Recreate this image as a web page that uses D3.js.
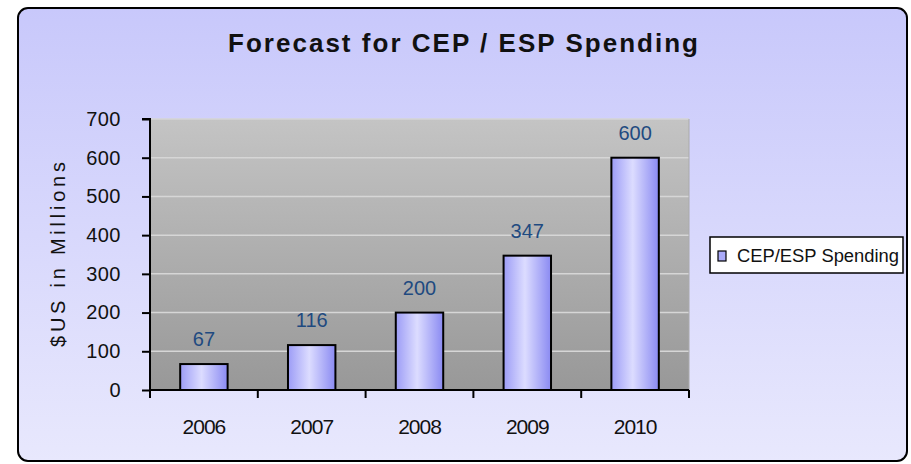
<!DOCTYPE html>
<html><head><meta charset="utf-8">
<script src="https://cdn.jsdelivr.net/npm/d3@7"></script>
<style>body{margin:0;background:#fff;}svg{display:block;}</style>
</head><body>
<svg id="c" width="911" height="464"></svg>
<script>
const categories = ["2006","2007","2008","2009","2010"];
const values = [67,116,200,347,600];
const yTicks = [0,100,200,300,400,500,600,700];
const seriesName = "CEP/ESP Spending";
const title = "Forecast for CEP / ESP Spending";
const yLabel = "$US in Millions";

const svg = d3.select("#c");
const defs = svg.append("defs");
const bg = defs.append("linearGradient").attr("id","bg").attr("x1",0).attr("y1",0).attr("x2",0).attr("y2",1);
bg.append("stop").attr("offset","0%").attr("stop-color","#c8c8fb");
bg.append("stop").attr("offset","100%").attr("stop-color","#e8e8fd");
const pg = defs.append("linearGradient").attr("id","pg").attr("x1",0).attr("y1",0).attr("x2",0).attr("y2",1);
pg.append("stop").attr("offset","0%").attr("stop-color","#c4c4c4");
pg.append("stop").attr("offset","100%").attr("stop-color","#989898");
const bgb = defs.append("linearGradient").attr("id","bar").attr("x1",0).attr("y1",0).attr("x2",1).attr("y2",0);
bgb.append("stop").attr("offset","0%").attr("stop-color","#9c9cf6");
bgb.append("stop").attr("offset","45%").attr("stop-color","#dcdcff");
bgb.append("stop").attr("offset","100%").attr("stop-color","#8a8af2");

svg.append("rect").attr("x",18).attr("y",8).attr("width",889).attr("height",453).attr("rx",10)
  .attr("fill","url(#bg)").attr("stroke","#000").attr("stroke-width",2);

svg.append("text").attr("x",228).attr("y",52)
  .attr("font-family","'Liberation Sans',Arial").attr("font-weight","bold")
  .attr("font-size",26).attr("fill","#111")
  .attr("textLength",470).attr("lengthAdjust","spacing").text(title);

const L=150,R=689,T=119,B=390;
const x = d3.scaleBand().domain(categories).range([L,R]).paddingInner(0.56).paddingOuter(0.28);
const y = d3.scaleLinear().domain([0,700]).range([B,T]);

svg.append("rect").attr("x",L).attr("y",T).attr("width",R-L).attr("height",B-T).attr("fill","url(#pg)");
svg.append("g").selectAll("line").data(yTicks.slice(1)).join("line")
  .attr("x1",L).attr("x2",R).attr("y1",d=>y(d)).attr("y2",d=>y(d))
  .attr("stroke","#d6d6d6").attr("stroke-width",1.5);
svg.append("line").attr("x1",R).attr("x2",R).attr("y1",T).attr("y2",B).attr("stroke","#aaa");

svg.append("g").selectAll("rect").data(values).join("rect")
  .attr("x",(d,i)=>x(categories[i])).attr("width",x.bandwidth())
  .attr("y",d=>y(d)).attr("height",d=>B-y(d))
  .attr("fill","url(#bar)").attr("stroke","#000").attr("stroke-width",2);

svg.append("g").selectAll("text").data(values).join("text")
  .attr("x",(d,i)=>x(categories[i])+x.bandwidth()/2).attr("y",d=>y(d)-18)
  .attr("text-anchor","middle").attr("font-family","'Liberation Sans',Arial").attr("font-size",20)
  .attr("fill","#1f4a80").text(d=>d);

const fontAx = "'Liberation Sans',Arial";
const yAxis = svg.append("g").attr("transform",`translate(${L},0)`)
  .call(d3.axisLeft(y).tickValues(yTicks).tickSize(8).tickPadding(21));
yAxis.select(".domain").attr("stroke","#000").attr("stroke-width",2).attr("d",`M-8,${T}H0V${B}`);
yAxis.selectAll(".tick line").attr("stroke","#000").attr("stroke-width",2);
yAxis.selectAll("text").attr("font-family",fontAx).attr("font-size",20).attr("fill","#111").attr("letter-spacing","0.5");

const xAxis = svg.append("g").attr("transform",`translate(0,${B})`)
  .call(d3.axisBottom(x).tickSize(0));
xAxis.select(".domain").attr("stroke","#000").attr("stroke-width",2).attr("d",`M${L},0H${R}`);
xAxis.selectAll("text").attr("dy",null).attr("y",44).attr("font-family",fontAx).attr("font-size",21)
  .attr("fill","#111").attr("letter-spacing","-1");
const bounds = categories.map(c=>x(c)-x.step()*x.paddingInner()/2).concat([R]);
svg.append("g").selectAll("line").data(bounds).join("line")
  .attr("x1",d=>d).attr("x2",d=>d).attr("y1",B).attr("y2",B+8).attr("stroke","#000").attr("stroke-width",2);

svg.append("text").attr("transform",`translate(65,${(T+B)/2}) rotate(-90)`).attr("text-anchor","middle")
  .attr("font-family",fontAx).attr("font-size",20).attr("fill","#111")
  .attr("textLength",185).attr("lengthAdjust","spacing").text(yLabel);

svg.append("rect").attr("x",710).attr("y",237).attr("width",193).attr("height",36).attr("fill","#fff").attr("stroke","#000").attr("stroke-width",1.5);
svg.append("rect").attr("x",718).attr("y",251).attr("width",8).attr("height",10).attr("fill","#aaaaf8").attr("stroke","#000").attr("stroke-width",1.2);
svg.append("text").attr("x",737).attr("y",262).attr("font-family",fontAx).attr("font-size",18)
  .attr("fill","#111").attr("textLength",162).attr("lengthAdjust","spacingAndGlyphs").text(seriesName);
</script>
</body></html>
